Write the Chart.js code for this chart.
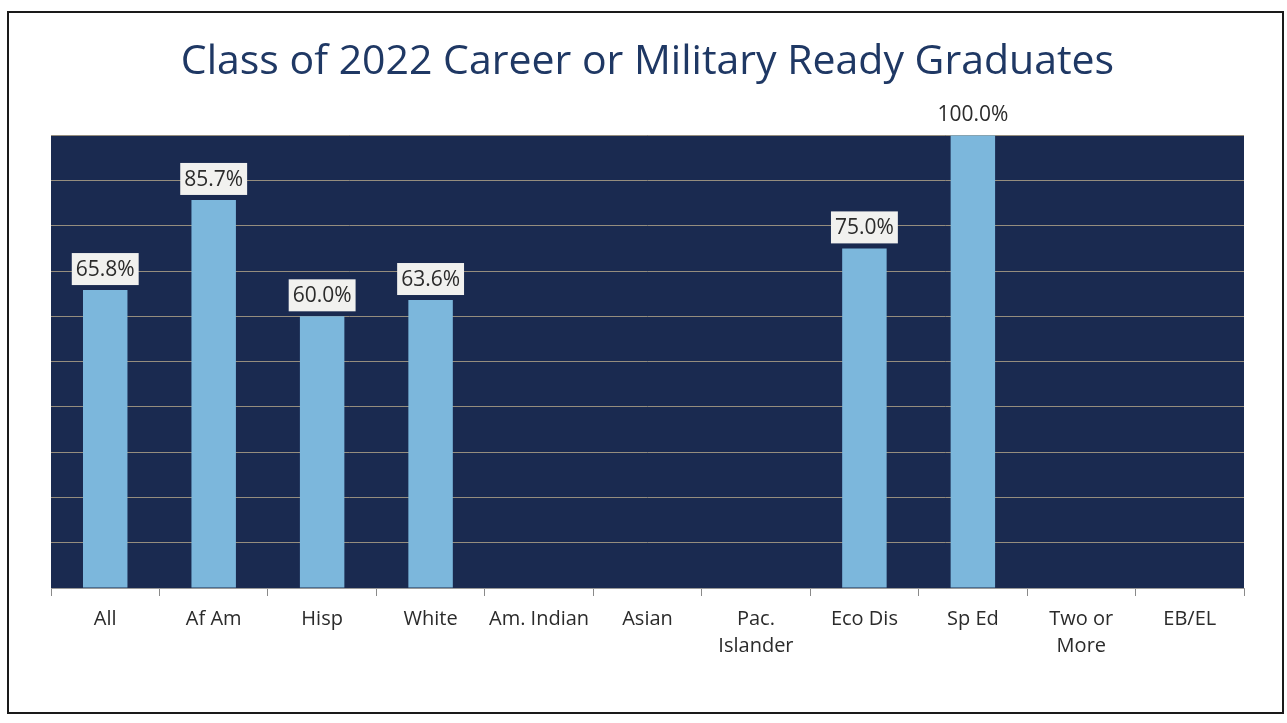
<!DOCTYPE html>
<html>
<head>
<meta charset="utf-8">
<script src="https://cdn.jsdelivr.net/npm/chart.js@4/dist/chart.umd.min.js"></script>
<style>
  html, body { margin: 0; padding: 0; background: #ffffff; }
  #frame {
    position: absolute; left: 7px; top: 11px; width: 1277px; height: 703px;
    border: 2px solid #1a1a1a; box-sizing: border-box;
  }
  #wrap { position: absolute; left: 0; top: 0; width: 1287px; height: 723px; }
</style>
</head>
<body>
<div id="frame"></div>
<div id="wrap"><canvas id="c" width="1287" height="723"></canvas></div>
<script>
// Student groups along the x axis
const categories = ['All', 'Af Am', 'Hisp', 'White', 'Am. Indian', 'Asian',
  ['Pac.', 'Islander'], 'Eco Dis', 'Sp Ed', ['Two or', 'More'], 'EB/EL'];
// Percent of the class that is career or military ready (null = not reported)
const readyPct = [65.8, 85.7, 60.0, 63.6, null, null, null, 75.0, 100.0, null, null];
// Value axis range and gridline step
const yMin = 0, yMax = 100, yStep = 10;

const NAVY = '#1a2a50';
const BAR = '#7cb7dc';

// Fills the plot area with the dark background
const plotBackground = {
  id: 'plotBackground',
  beforeDraw(chart) {
    const { ctx, chartArea: a } = chart;
    ctx.save();
    ctx.fillStyle = NAVY;
    ctx.fillRect(a.left, a.top, a.right - a.left, a.bottom - a.top);
    ctx.restore();
  }
};

// Boxed value labels above each bar
const valueLabels = {
  id: 'valueLabels',
  afterDatasetsDraw(chart) {
    const { ctx } = chart;
    const meta = chart.getDatasetMeta(0);
    ctx.save();
    ctx.font = '21px "Open Sans", sans-serif';
    ctx.textAlign = 'center';
    ctx.textBaseline = 'middle';
    meta.data.forEach((bar, i) => {
      const v = readyPct[i];
      if (v === null || v === undefined) return;
      const text = v.toFixed(1) + '%';
      const w = ctx.measureText(text).width + 8;
      const h = 32;
      const cx = bar.x;
      const bottom = bar.y - 5;
      ctx.fillStyle = v >= yMax ? '#ffffff' : '#f1f1ef';
      ctx.fillRect(cx - w / 2, bottom - h, w, h);
      ctx.fillStyle = '#2b2b2b';
      ctx.fillText(text, cx, bottom - h / 2 + 1);
    });
    ctx.restore();
  }
};

new Chart(document.getElementById('c'), {
  type: 'bar',
  data: {
    labels: categories,
    datasets: [{
      data: readyPct,
      backgroundColor: BAR,
      borderWidth: 0,
      barPercentage: 0.82,
      categoryPercentage: 0.5
    }]
  },
  options: {
    responsive: false,
    animation: false,
    devicePixelRatio: 1,
    layout: { padding: { left: 51, right: 43, top: 0, bottom: 53 } },
    plugins: {
      legend: { display: false },
      tooltip: { enabled: false },
      title: {
        display: true,
        text: 'Class of 2022 Career or Military Ready Graduates',
        color: '#1f3864',
        font: { family: '"Open Sans", sans-serif', size: 41, weight: 'normal' },
        padding: { top: 38, bottom: 48 }
      }
    },
    scales: {
      x: {
        grid: {
          display: true, offset: true, drawOnChartArea: false,
          color: '#8a8a8a', tickLength: 8, tickWidth: 1
        },
        border: { display: true, color: '#9a9a9a', width: 1 },
        ticks: {
          color: '#2b2b2b',
          font: { family: '"Open Sans", sans-serif', size: 20, lineHeight: 1.35 },
          padding: 10, maxRotation: 0, autoSkip: false
        }
      },
      y: {
        min: yMin, max: yMax,
        grid: { color: '#958d7e', lineWidth: 1, drawTicks: false },
        border: { display: false },
        ticks: { display: false, stepSize: yStep }
      }
    }
  },
  plugins: [plotBackground, valueLabels]
});
</script>
</body>
</html>
